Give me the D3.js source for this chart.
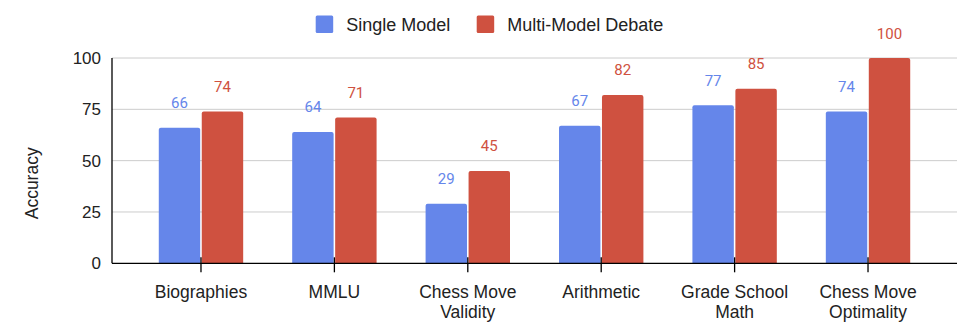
<!DOCTYPE html>
<html><head><meta charset="utf-8">
<script src="https://cdn.jsdelivr.net/npm/d3@7"></script>
<style>
html,body{margin:0;padding:0;background:#fff;}
svg{display:block;}
</style></head>
<body>
<svg id="chart" width="967" height="326"></svg>
<script>
const categories = ["Biographies", "MMLU", "Chess Move Validity", "Arithmetic", "Grade School Math", "Chess Move Optimality"];
const seriesNames = ["Single Model", "Multi-Model Debate"];
const singleModel = [66, 64, 29, 67, 77, 74];
const multiModelDebate = [74, 71, 45, 82, 85, 100];
const yTicks = [0, 25, 50, 75, 100];
const colors = ["#6586ea", "#cf5140"];

const svg = d3.select("#chart");
const plotLeft = 112, plotRight = 957, plotTop = 58, plotBottom = 263.3;
const font = "'Liberation Sans', Arial, sans-serif";

const x = d3.scaleBand().domain(categories).range([plotLeft, plotRight]).paddingInner(0).paddingOuter(0.167);
const xs = d3.scaleBand().domain(seriesNames).range([-42.2, 42.2]).paddingInner(0.036);
const y = d3.scaleLinear().domain([0, 100]).range([plotBottom, plotTop]);

// gridlines
svg.append("g").selectAll("line").data(yTicks.filter(d => d > 0)).join("line")
  .attr("x1", plotLeft).attr("x2", plotRight)
  .attr("y1", d => y(d)).attr("y2", d => y(d))
  .attr("stroke", "#cccccc").attr("stroke-width", 1);

// y tick labels
svg.append("g").selectAll("text").data(yTicks).join("text")
  .attr("x", plotLeft - 11).attr("y", d => y(d)).attr("dy", "0.35em")
  .attr("text-anchor", "end").attr("font-family", font).attr("font-size", 17)
  .attr("fill", "#222").text(d => d);

// y title
svg.append("text").attr("transform", "translate(38,183.3) rotate(-90)")
  .attr("text-anchor", "middle").attr("font-family", font).attr("font-size", 17.5)
  .attr("fill", "#222").text("Accuracy");

// bars
const data = [];
categories.forEach((c, i) => {
  data.push({c, s: seriesNames[0], v: singleModel[i], k: 0});
  data.push({c, s: seriesNames[1], v: multiModelDebate[i], k: 1});
});
function barPath(x0, w, y0, y1, r) {
  return `M${x0},${y1}V${y0 + r}Q${x0},${y0} ${x0 + r},${y0}H${x0 + w - r}Q${x0 + w},${y0} ${x0 + w},${y0 + r}V${y1}Z`;
}
const cx = c => x(c) + x.bandwidth() / 2;
svg.append("g").selectAll("path").data(data).join("path")
  .attr("d", d => barPath(cx(d.c) + xs(d.s), xs.bandwidth(), y(d.v), y(0), 2))
  .attr("fill", d => colors[d.k]);

// data labels
svg.append("g").selectAll("text").data(data).join("text")
  .attr("x", d => cx(d.c) + xs(d.s) + xs.bandwidth() / 2)
  .attr("y", d => y(d.v) - 19.5)
  .attr("text-anchor", "middle").attr("font-family", "Roboto, sans-serif").attr("font-size", 15)
  .attr("fill", d => colors[d.k]).text(d => d.v);

// axes lines
svg.append("line").attr("x1", plotLeft).attr("x2", plotLeft).attr("y1", plotTop).attr("y2", plotBottom)
  .attr("stroke", "#000").attr("stroke-width", 1.3);
svg.append("line").attr("x1", plotLeft).attr("x2", plotRight).attr("y1", plotBottom).attr("y2", plotBottom)
  .attr("stroke", "#000").attr("stroke-width", 1.3);

// x ticks
svg.append("g").selectAll("line").data(categories).join("line")
  .attr("x1", d => cx(d)).attr("x2", d => cx(d))
  .attr("y1", plotBottom - 6).attr("y2", plotBottom + 9)
  .attr("stroke", "#000").attr("stroke-width", 1.3);

// x labels
function wrap(label) {
  const w = label.split(" ");
  return w.length > 2 ? [w.slice(0, 2).join(" "), w.slice(2).join(" ")] : [label];
}
const xl = svg.append("g").selectAll("text").data(categories).join("text")
  .attr("x", d => cx(d)).attr("y", 298)
  .attr("text-anchor", "middle").attr("font-family", font).attr("font-size", 17.5)
  .attr("fill", "#222");
xl.each(function(d) {
  const t = d3.select(this);
  wrap(d).forEach((line, i) => {
    t.append("tspan").attr("x", cx(d)).attr("y", 298 + i * 20).text(line);
  });
});

// legend
const legendX = [315.7, 476.7];
const lg = svg.append("g").selectAll("g").data(seriesNames).join("g")
  .attr("transform", (d, i) => `translate(${legendX[i]},15.5)`);
lg.append("rect").attr("width", 17.5).attr("height", 17.5).attr("rx", 1.5).attr("fill", (d, i) => colors[i]);
lg.append("text").attr("x", 30.5).attr("y", 8.75).attr("dy", "0.35em")
  .attr("font-family", font).attr("font-size", 18).attr("fill", "#222").text(d => d);
</script>
</body></html>
